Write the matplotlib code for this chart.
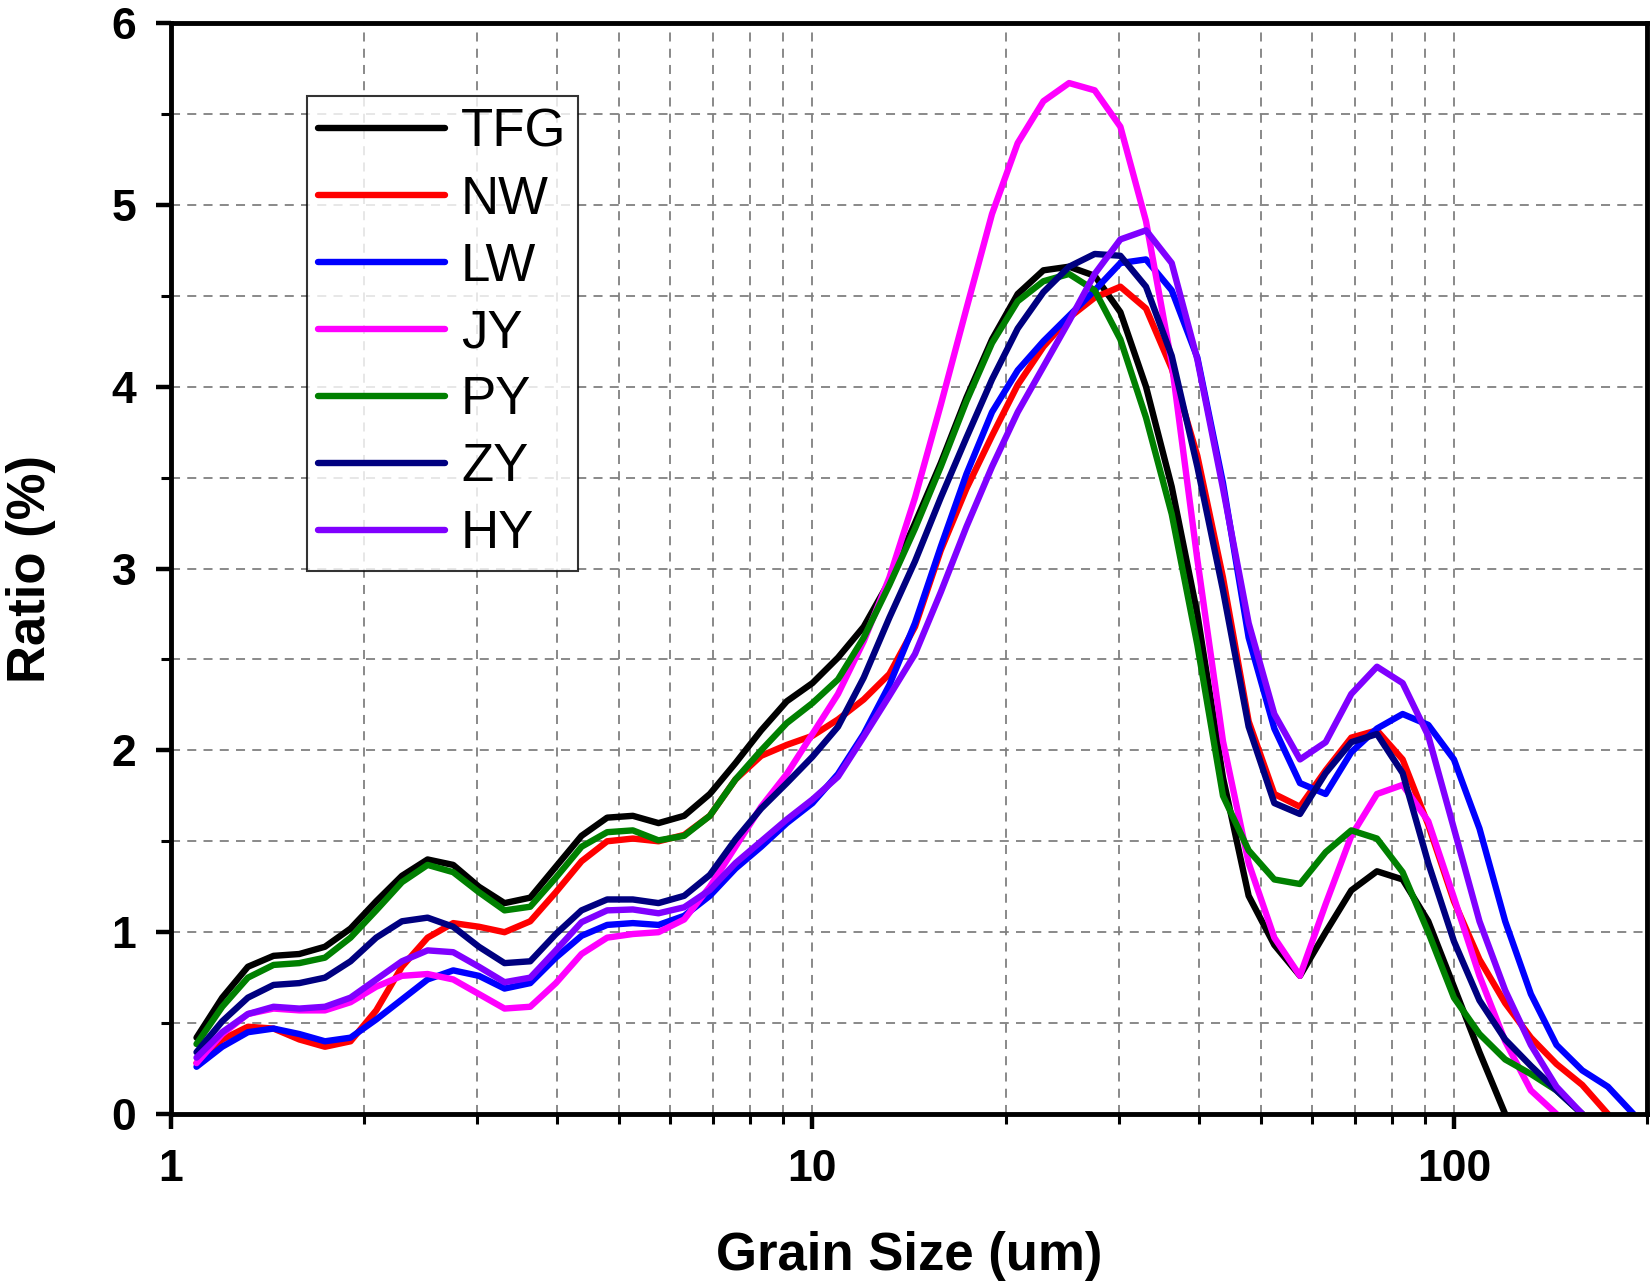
import matplotlib
matplotlib.use("Agg")
import matplotlib.pyplot as plt
from matplotlib.ticker import LogLocator, MultipleLocator, NullFormatter, FixedLocator, FixedFormatter

plt.rcParams['font.family'] = ['Liberation Sans', 'DejaVu Sans']

# grain size classes (um)
grain_size = [1.096, 1.202, 1.318, 1.445, 1.585, 1.738, 1.905, 2.089, 2.291, 2.512,
              2.754, 3.020, 3.311, 3.631, 3.981, 4.365, 4.786, 5.248, 5.754, 6.310,
              6.918, 7.586, 8.318, 9.120, 10.00, 10.96, 12.02, 13.18, 14.45, 15.85,
              17.38, 19.05, 20.89, 22.91, 25.12, 27.54, 30.20, 33.11, 36.31, 39.81,
              43.65, 47.86, 52.48, 57.54, 63.10, 69.18, 75.86, 83.18, 91.20, 100.0,
              109.6, 120.2, 131.8, 144.5, 158.5, 173.8, 190.5]

tfg = [0.42, 0.64, 0.81, 0.87, 0.88, 0.92, 1.02, 1.17, 1.31, 1.40,
       1.37, 1.25, 1.16, 1.19, 1.36, 1.53, 1.63, 1.64, 1.60, 1.64,
       1.76, 1.93, 2.11, 2.27, 2.37, 2.51, 2.68, 2.93, 3.25, 3.58,
       3.94, 4.26, 4.51, 4.64, 4.66, 4.61, 4.41, 4.00, 3.45, 2.75,
       1.85, 1.20, 0.93, 0.76, 1.00, 1.23, 1.335, 1.29, 1.06, 0.70,
       0.34, 0.0]
nw = [0.28, 0.41, 0.48, 0.47, 0.41, 0.37, 0.40, 0.57, 0.81, 0.97,
      1.05, 1.03, 1.00, 1.06, 1.22, 1.39, 1.50, 1.515, 1.50, 1.535,
      1.64, 1.84, 1.97, 2.03, 2.08, 2.17, 2.28, 2.42, 2.68, 3.10,
      3.44, 3.73, 4.01, 4.22, 4.38, 4.49, 4.55, 4.43, 4.10, 3.62,
      2.95, 2.16, 1.76, 1.69, 1.89, 2.07, 2.11, 1.95, 1.59, 1.17,
      0.85, 0.61, 0.42, 0.275, 0.16, 0.0]
lw = [0.26, 0.37, 0.45, 0.47, 0.44, 0.40, 0.42, 0.52, 0.63, 0.74,
      0.79, 0.76, 0.69, 0.72, 0.86, 0.98, 1.04, 1.05, 1.04, 1.09,
      1.20, 1.35, 1.47, 1.60, 1.71, 1.87, 2.09, 2.36, 2.70, 3.12,
      3.52, 3.86, 4.09, 4.25, 4.39, 4.53, 4.68, 4.70, 4.53, 4.16,
      3.47, 2.62, 2.12, 1.82, 1.76, 1.99, 2.12, 2.20, 2.14, 1.95,
      1.57, 1.06, 0.66, 0.38, 0.24, 0.15, 0.0]
jy = [0.28, 0.44, 0.55, 0.58, 0.57, 0.57, 0.615, 0.70, 0.76, 0.77,
      0.74, 0.66, 0.58, 0.59, 0.72, 0.88, 0.97, 0.99, 1.00, 1.07,
      1.25, 1.47, 1.69, 1.87, 2.09, 2.31, 2.60, 2.95, 3.39, 3.90,
      4.43, 4.95, 5.34, 5.57, 5.67, 5.63, 5.43, 4.91, 4.13, 3.05,
      2.05, 1.38, 0.97, 0.76, 1.155, 1.53, 1.76, 1.81, 1.61, 1.19,
      0.76, 0.40, 0.13, 0.0]
py = [0.385, 0.59, 0.75, 0.82, 0.83, 0.86, 0.97, 1.12, 1.275, 1.37,
      1.33, 1.22, 1.12, 1.14, 1.30, 1.47, 1.55, 1.56, 1.505, 1.53,
      1.64, 1.84, 2.00, 2.15, 2.26, 2.39, 2.62, 2.91, 3.22, 3.56,
      3.92, 4.24, 4.47, 4.58, 4.62, 4.53, 4.26, 3.83, 3.30, 2.58,
      1.75, 1.45, 1.29, 1.265, 1.44, 1.56, 1.515, 1.33, 1.00, 0.64,
      0.44, 0.30, 0.22, 0.13, 0.0]
zy = [0.34, 0.51, 0.64, 0.71, 0.72, 0.75, 0.84, 0.97, 1.06, 1.08,
      1.03, 0.92, 0.83, 0.84, 0.99, 1.12, 1.18, 1.18, 1.16, 1.20,
      1.315, 1.51, 1.68, 1.82, 1.965, 2.13, 2.40, 2.73, 3.04, 3.39,
      3.72, 4.04, 4.32, 4.52, 4.66, 4.73, 4.72, 4.55, 4.17, 3.56,
      2.88, 2.13, 1.71, 1.65, 1.875, 2.045, 2.09, 1.875, 1.38, 0.95,
      0.625, 0.41, 0.265, 0.13, 0.0]
hy = [0.31, 0.45, 0.55, 0.59, 0.58, 0.59, 0.64, 0.74, 0.84, 0.90,
      0.89, 0.81, 0.725, 0.75, 0.90, 1.055, 1.12, 1.125, 1.104, 1.137,
      1.232, 1.38, 1.50, 1.62, 1.73, 1.855, 2.075, 2.30, 2.53, 2.87,
      3.23, 3.56, 3.86, 4.11, 4.36, 4.62, 4.81, 4.86, 4.68, 4.15,
      3.44, 2.70, 2.20, 1.95, 2.045, 2.31, 2.46, 2.37, 2.08, 1.57,
      1.06, 0.68, 0.38, 0.15, 0.0]

names = ["TFG", "NW", "LW", "JY", "PY", "ZY", "HY"]
series = [tfg, nw, lw, jy, py, zy, hy]
colors = ["#000000", "#FF0000", "#0000FF", "#FF00FF", "#008000", "#000080", "#8000FF"]

fig = plt.figure(figsize=(16.52, 12.87), dpi=100)
ax = fig.add_axes([0.1035, 0.1344, 0.8935, 0.8477])

for name, vals, c in zip(names, series, colors):
    ax.plot(grain_size[:len(vals)], vals, color=c, lw=4.6, label=name,
            solid_capstyle='round', solid_joinstyle='round')

ax.set_xscale('log')
ax.set_xlim(1, 200)
ax.set_ylim(0, 6)

ax.xaxis.set_major_locator(FixedLocator([1, 10, 100]))
ax.xaxis.set_major_formatter(FixedFormatter(["1", "10", "100"]))
ax.xaxis.set_minor_locator(LogLocator(base=10, subs=range(2, 10)))
ax.xaxis.set_minor_formatter(NullFormatter())
ax.yaxis.set_major_locator(MultipleLocator(1))
ax.yaxis.set_minor_locator(MultipleLocator(0.5))

ax.grid(True, which='both', color='#808080', ls=(0, (5, 4)), lw=1.3)
ax.set_axisbelow(True)

for s in ax.spines.values():
    s.set_linewidth(3.5)

ax.tick_params(which='major', direction='out', length=11, width=3.2, pad=14)
ax.tick_params(which='minor', direction='out', length=7, width=2.2)
for lab in ax.get_xticklabels() + ax.get_yticklabels():
    lab.set_fontweight('bold')
    lab.set_fontsize(32)

ax.set_xlabel("Grain Size (um)", fontsize=38, fontweight='bold', labelpad=30)
ax.set_ylabel("Ratio (%)", fontsize=38, fontweight='bold', labelpad=40)

leg = ax.legend(loc='upper left', bbox_to_anchor=(0.092, 0.933), borderaxespad=0,
                prop={'size': 38}, handlelength=2.4, handletextpad=0.3,
                labelspacing=0.32, frameon=True, fancybox=False, borderpad=0.22)
leg.get_frame().set_edgecolor('black')
leg.get_frame().set_linewidth(1.5)

fig.savefig("out.png", dpi=100)
